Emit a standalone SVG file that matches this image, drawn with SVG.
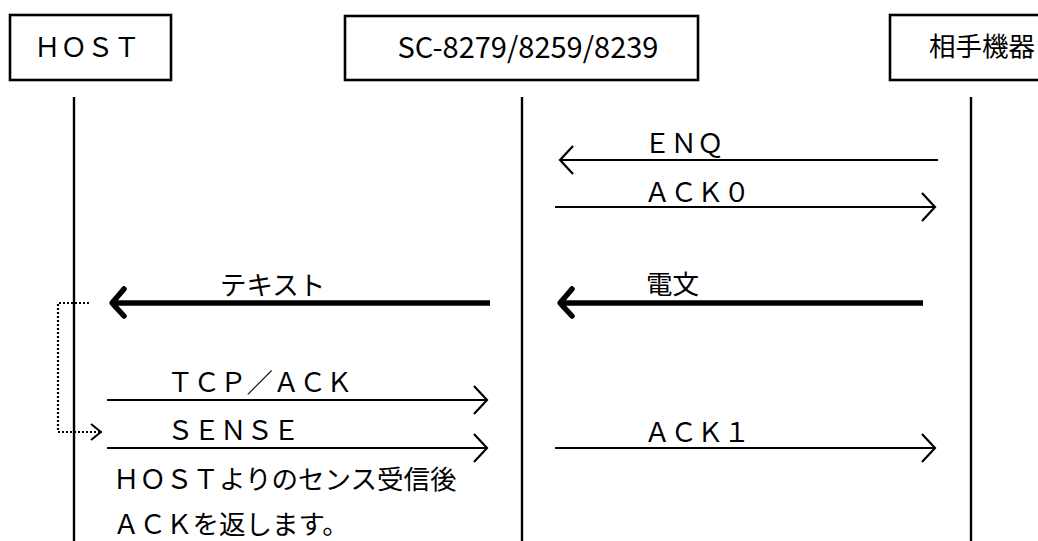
<svg xmlns="http://www.w3.org/2000/svg" width="1038" height="541" viewBox="0 0 1038 541">
<style>
.box{fill:#fff;stroke:#000;stroke-width:2.6}
.life{stroke:#000;stroke-width:2.4;fill:none}
.t{font-family:"Noto Sans CJK JP","Noto Sans",sans-serif;font-size:26.5px;fill:#000}
.tp{font-family:"Noto Sans CJK JP","Noto Sans",sans-serif;font-size:29px;fill:#000}
.thin{stroke:#000;stroke-width:2.2;fill:none}
.thick{stroke:#000;stroke-width:5.5;fill:none}
.dot{stroke:#000;stroke-width:2.2;fill:none;stroke-dasharray:2 2}
</style>
<defs>
<marker id="open" viewBox="-16 -16 20 32" refX="0" refY="0" markerWidth="20" markerHeight="32" markerUnits="userSpaceOnUse" orient="auto">
<path d="M-13,-14 L0,0 L-13,14" fill="none" stroke="#000" stroke-width="2.2"/>
</marker>
<marker id="bold" viewBox="-16 -18 20 36" refX="0" refY="0" markerWidth="20" markerHeight="36" markerUnits="userSpaceOnUse" orient="auto">
<path d="M-12,-13 L0,0 L-12,14" fill="none" stroke="#000" stroke-width="5.5" stroke-linecap="round" stroke-linejoin="round"/>
</marker>
<marker id="small" viewBox="-14 -12 16 24" refX="0" refY="0" markerWidth="16" markerHeight="24" markerUnits="userSpaceOnUse" orient="auto">
<path d="M-10,-8 L0,0 L-10,8" fill="none" stroke="#000" stroke-width="2"/>
</marker>
</defs>
<rect width="1038" height="541" fill="#fff"/>

<g id="host">
<rect class="box" x="10" y="15" width="161" height="65"/>
<text class="t" x="34" y="57">ＨＯＳＴ</text>
<line class="life" x1="74" y1="97" x2="74" y2="541"/>
</g>

<g id="sc">
<rect class="box" x="345" y="16" width="353" height="64"/>
<text class="tp" x="528" y="58" text-anchor="middle">SC-8279/8259/8239</text>
<line class="life" x1="522" y1="97" x2="522" y2="541"/>
</g>

<g id="partner">
<rect class="box" x="890" y="15" width="160" height="65"/>
<text class="t" x="929" y="56">相手機器</text>
<line class="life" x1="971" y1="97" x2="971" y2="541"/>
</g>

<g id="connectors">
<path class="thin" d="M938,160 H560" marker-end="url(#open)"/>
<path class="thin" d="M555,207 H935" marker-end="url(#open)"/>
<path class="thick" d="M923,303 H560" marker-end="url(#bold)"/>
<path class="thick" d="M490,303 H112" marker-end="url(#bold)"/>
<path class="dot" d="M89,303 H58 V432 H101" marker-end="url(#small)"/>
<path class="thin" d="M107,400 H487" marker-end="url(#open)"/>
<path class="thin" d="M107,448 H487" marker-end="url(#open)"/>
<path class="thin" d="M555,448 H935" marker-end="url(#open)"/>
</g>

<g id="labels">
<text class="t" x="644" y="153">ＥＮＱ</text>
<text class="t" x="644" y="202">ＡＣＫ０</text>
<text class="t" x="646" y="294">電文</text>
<text class="t" x="220" y="295">テキスト</text>
<text class="t" x="167" y="392">ＴＣＰ／ＡＣＫ</text>
<text class="t" x="167" y="440">ＳＥＮＳＥ</text>
<text class="t" x="644" y="442">ＡＣＫ１</text>
<text class="t" x="113" y="489">ＨＯＳＴよりのセンス受信後</text>
<text class="t" x="113" y="534">ＡＣＫを返します。</text>
</g>
</svg>
